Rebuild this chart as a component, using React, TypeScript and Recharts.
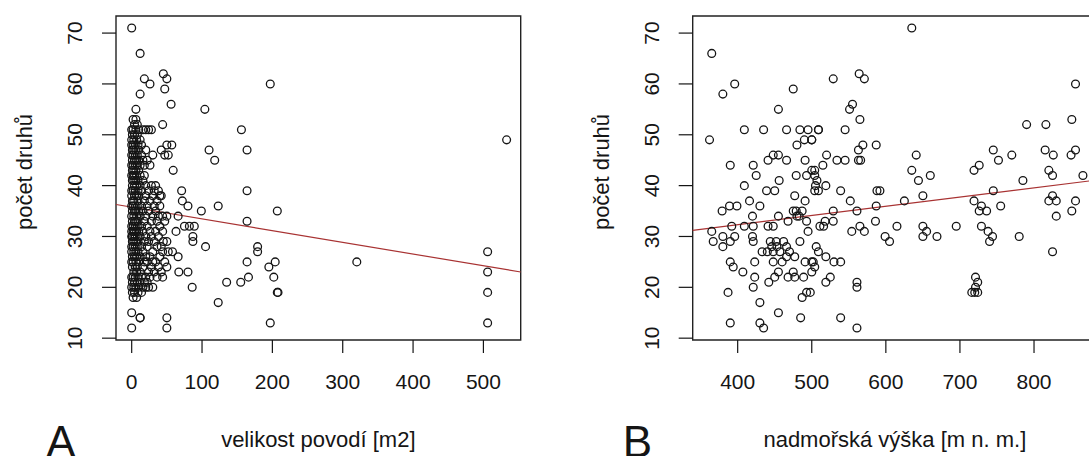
import React from 'react';
import { ScatterChart, Scatter, XAxis, YAxis, ReferenceArea, ReferenceLine, Label } from 'recharts';

const FONT = '"Liberation Sans", Arial, Helvetica, sans-serif';

const speciesTicks = [10, 20, 30, 40, 50, 60, 70];
const areaTicks = [0, 100, 200, 300, 400, 500];
const altitudeTicks = [400, 500, 600, 700, 800];
const speciesDomain: [number, number] = [9.64, 73.36];
const areaDomain: [number, number] = [-22.3, 553];
const altitudeDomain: [number, number] = [339.3, 885];

const areaFit = { intercept: 35.77, slope: -0.02307 };
const altitudeFit = { intercept: 25.05, slope: 0.01814 };

// dense cluster of small catchments: [area, list of species counts]
const areaColumns: [number, number[]][] = [
  [0, [12, 15, 20, 22, 25, 27, 28, 30, 31, 32, 34, 36, 38, 39, 42, 44, 46, 48, 49, 51, 71]],
  [1, [19, 21, 24, 26, 29, 30, 33, 35, 37, 40, 41, 43, 45, 47, 50]],
  [2, [18, 22, 25, 28, 31, 32, 36, 39, 42, 44, 46, 48, 51, 53]],
  [3, [20, 23, 27, 29, 30, 34, 37, 41, 43, 47, 49]],
  [4, [19, 21, 26, 31, 33, 35, 38, 40, 42, 45, 50, 52]],
  [5, [22, 24, 28, 30, 32, 36, 39, 44, 46, 48]],
  [6, [20, 25, 27, 29, 33, 35, 41, 43, 47, 51, 53, 55]],
  [7, [18, 23, 26, 31, 34, 38, 40, 42, 45, 49]],
  [8, [21, 24, 28, 30, 32, 36, 44, 46, 50, 52]],
  [9, [19, 22, 27, 29, 33, 37, 39, 41, 48]],
  [10, [20, 25, 31, 35, 38, 43, 45, 47, 51]],
  [12, [14, 14, 21, 23, 26, 30, 34, 40, 42, 44, 49, 58, 66]],
  [14, [19, 22, 28, 32, 36, 39, 46, 48]],
  [16, [20, 24, 27, 31, 35, 41, 45, 51]],
  [18, [21, 25, 29, 33, 37, 42, 44, 61]],
  [20, [20, 22, 26, 30, 34, 38, 40, 47, 51]],
  [22, [21, 25, 28, 32, 36, 45]],
  [24, [20, 23, 29, 35, 39, 51]],
  [26, [22, 26, 31, 37, 44, 60]],
  [28, [24, 30, 33, 40, 51]],
  [30, [20, 25, 27, 34, 38, 46]],
  [32, [23, 29, 36, 39]],
  [34, [25, 31, 35, 40]],
  [36, [22, 28, 33, 37]],
  [38, [24, 30, 34, 39]],
  [40, [26, 32, 36, 38]],
  [42, [23, 28, 38, 47]],
  [44, [22, 27, 31, 34, 52]],
  [45, [29, 62]],
  [47, [25, 33, 46, 59]],
  [50, [12, 14, 24, 29, 34, 48, 61]],
  [52, [27, 46]],
  [56, [56]],
  [57, [48]],
  [59, [43]],
];

const areaSpread: [number, number][] = [
  [104, 55], [156, 51], [110, 47], [118, 45], [164, 47], [197, 60], [71, 39], [72, 37],
  [80, 36], [123, 36], [164, 39], [99, 35], [207, 35], [66, 34], [63, 31], [75, 32],
  [82, 32], [89, 32], [164, 33], [87, 30], [87, 29], [105, 28], [179, 28], [179, 27],
  [58, 27], [66, 26], [80, 23], [67, 23], [86, 20], [123, 17], [135, 21], [155, 21],
  [166, 22], [164, 25], [195, 24], [204, 25], [202, 22], [207, 19], [208, 19], [197, 13],
  [320, 25], [533, 49], [506, 27], [506, 23], [506, 19], [506, 13],
];

const altitudeLow: [number, number][] = [
  [365, 66], [362, 49], [380, 58], [396, 60], [475, 59], [455, 55],
  [409, 51], [435, 51], [466, 51], [484, 51], [495, 51], [509, 51],
  [480, 48], [490, 49], [500, 49],
  [390, 44], [421, 44], [425, 42], [441, 45], [448, 46], [455, 46], [466, 45], [491, 45],
  [479, 42], [456, 41], [493, 42], [500, 43], [507, 41], [505, 40],
  [409, 40], [416, 37], [430, 36], [439, 39], [450, 39], [477, 38], [491, 37], [487, 35], [480, 34], [483, 34],
  [379, 35], [389, 36], [399, 36], [420, 34], [392, 32], [409, 32], [421, 32], [441, 32], [448, 32], [455, 34],
  [468, 33], [479, 35], [493, 33], [475, 35],
  [365, 31], [380, 30], [396, 30], [367, 29], [380, 28], [390, 29], [420, 30], [421, 29], [433, 27], [444, 29],
  [453, 28], [462, 29], [466, 28], [440, 27], [448, 27], [457, 27], [466, 26], [477, 26], [484, 29], [495, 31], [500, 25],
  [390, 25], [394, 24], [407, 23], [423, 25], [423, 22], [448, 25], [455, 23], [468, 22], [475, 23], [477, 22],
  [491, 25], [489, 22], [493, 19], [487, 18],
  [387, 19], [421, 20], [430, 17], [430, 13], [435, 12], [390, 13], [455, 15], [485, 14],
  [446, 28], [452, 29], [470, 27], [460, 25], [442, 21], [450, 22],
];

const altitudeHigh: [number, number][] = [
  [635, 71], [529, 61], [564, 62], [571, 61], [555, 56], [551, 55], [565, 53], [545, 51], [509, 51], [500, 49],
  [563, 47], [569, 48], [587, 48], [520, 46], [534, 45], [545, 45], [563, 45], [566, 45], [515, 44], [504, 43], [504, 42],
  [519, 40], [504, 39], [509, 39], [539, 39], [552, 37], [529, 35], [561, 35], [588, 39], [592, 39], [587, 36], [625, 37],
  [518, 33], [529, 33], [511, 32], [516, 32], [554, 31], [565, 32], [571, 31], [586, 33], [599, 30], [605, 29], [615, 32],
  [641, 46], [635, 43], [644, 41], [660, 42], [650, 38], [650, 32], [655, 31], [650, 30], [669, 30], [695, 32],
  [719, 43], [726, 44], [745, 47], [752, 45], [770, 46], [745, 39], [719, 37], [726, 35], [736, 35], [729, 36], [755, 36],
  [729, 32], [738, 31], [744, 30], [740, 29], [780, 30], [785, 41], [790, 52], [816, 52], [815, 47], [826, 46], [820, 43], [825, 42],
  [820, 37], [830, 37], [825, 38], [830, 34], [825, 27], [851, 53], [856, 60], [850, 46], [856, 47], [866, 42], [856, 37], [851, 35],
  [721, 22], [721, 20], [720, 19], [724, 19], [716, 19], [724, 21],
  [539, 14], [561, 12], [561, 21], [561, 20], [519, 21], [525, 22], [530, 25], [539, 25], [519, 26], [509, 27], [506, 28],
  [504, 24], [500, 23], [502, 25], [498, 19],
];

const toPoints = (pairs: [number, number][]) => pairs.map(([x, y]) => ({ x, y }));
const areaData = [
  ...areaColumns.flatMap(([x, ys]) => ys.map((y) => ({ x, y }))),
  ...toPoints(areaSpread),
];
const altitudeData = [...toPoints(altitudeLow), ...toPoints(altitudeHigh)];

const INK = '#151515';

const ring = (p: any) => (
  <circle cx={p.cx} cy={p.cy} r={3.9} fill="none" stroke={INK} strokeWidth={1.3} />
);

type PanelProps = {
  left: number;
  width: number;
  plotLeft: number;
  marginRight: number;
  data: { x: number; y: number }[];
  xDomain: [number, number];
  xTicks: number[];
  fit: { intercept: number; slope: number };
  xTitle: string;
  letter: string;
  letterX: number;
};

function Panel({ left, width, plotLeft, marginRight, data, xDomain, xTicks, fit, xTitle, letter, letterX }: PanelProps) {
  const plotRight = width - marginRight;
  const plotCenter = (plotLeft + plotRight) / 2;
  return (
    <div style={{ position: 'absolute', left, top: 0 }}>
      <ScatterChart width={width} height={456} margin={{ top: 16, right: marginRight, bottom: 0, left: 0 }}>
        <XAxis
          type="number"
          dataKey="x"
          domain={xDomain}
          ticks={xTicks}
          interval={0}
          allowDataOverflow
          height={116}
          axisLine={false}
          tickLine={{ stroke: INK, strokeWidth: 1.2 }}
          tickSize={13}
          tick={(p: any) => (
            <text x={p.x} y={389} textAnchor="middle" fontSize={21} fontFamily={FONT} fill={INK}>
              {p.payload.value}
            </text>
          )}
        >
          <Label
            content={() => (
              <g>
                <text x={plotCenter} y={447} textAnchor="middle" fontSize={22} fontFamily={FONT} fill={INK}>
                  {xTitle}
                </text>
                <text x={letterX} y={457} textAnchor="middle" fontSize={44} fontFamily={FONT} fill={INK}>
                  {letter}
                </text>
              </g>
            )}
          />
        </XAxis>
        <YAxis
          type="number"
          dataKey="y"
          domain={speciesDomain}
          ticks={speciesTicks}
          interval={0}
          allowDataOverflow
          width={plotLeft}
          axisLine={false}
          tickLine={{ stroke: INK, strokeWidth: 1.2 }}
          tickSize={14}
          tick={(p: any) => (
            <text
              x={plotLeft - 34}
              y={p.y}
              transform={`rotate(-90 ${plotLeft - 34} ${p.y})`}
              textAnchor="middle"
              fontSize={21}
              fontFamily={FONT}
              fill={INK}
            >
              {p.payload.value}
            </text>
          )}
        >
          <Label
            content={() => (
              <text
                x={plotLeft - 84}
                y={172}
                transform={`rotate(-90 ${plotLeft - 84} 172)`}
                textAnchor="middle"
                fontSize={22}
                fontFamily={FONT}
                fill={INK}
              >
                počet druhů
              </text>
            )}
          />
        </YAxis>
        <ReferenceArea
          x1={xDomain[0]}
          x2={xDomain[1]}
          y1={speciesDomain[0]}
          y2={speciesDomain[1]}
          fill="none"
          fillOpacity={0}
          stroke="#222"
          strokeWidth={1.4}
          ifOverflow="visible"
        />
        <Scatter data={data} shape={ring} isAnimationActive={false} />
        <ReferenceLine
          segment={[
            { x: xDomain[0], y: fit.intercept + fit.slope * xDomain[0] },
            { x: xDomain[1], y: fit.intercept + fit.slope * xDomain[1] },
          ]}
          stroke="#a83232"
          strokeWidth={1.2}
          ifOverflow="visible"
        />
      </ScatterChart>
    </div>
  );
}

export default function App() {
  return (
    <div
      style={{
        position: 'absolute',
        left: 0,
        top: 0,
        width: 1089,
        height: 456,
        overflow: 'hidden',
        background: '#fff',
      }}
    >
      <Panel
        left={0}
        width={545}
        plotLeft={116}
        marginRight={24.3}
        data={areaData}
        xDomain={areaDomain}
        xTicks={areaTicks}
        fit={areaFit}
        xTitle="velikost povodí [m2]"
        letter="A"
        letterX={61}
      />
      <Panel
        left={545}
        width={576}
        plotLeft={147.7}
        marginRight={24}
        data={altitudeData}
        xDomain={altitudeDomain}
        xTicks={altitudeTicks}
        fit={altitudeFit}
        xTitle="nadmořská výška [m n. m.]"
        letter="B"
        letterX={92.5}
      />
    </div>
  );
}
